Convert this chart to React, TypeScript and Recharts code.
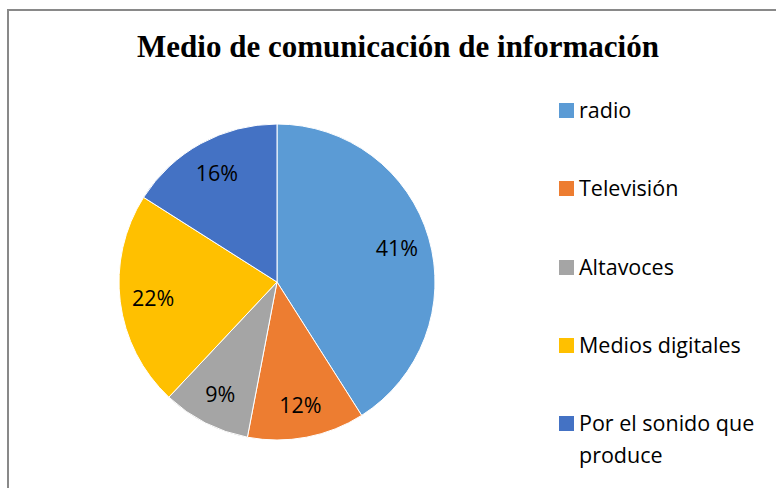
import React from "react"
import { PieChart, Pie, Cell } from "recharts"

const categories = ["radio", "Televisión", "Altavoces", "Medios digitales", "Por el sonido que produce"]
const shares = [41, 12, 9, 22, 16]
const colors = ["#5B9BD5", "#ED7D31", "#A5A5A5", "#FFC000", "#4472C4"]

const data = categories.map((name, i) => ({ name, value: shares[i] }))

const RAD = Math.PI / 180
const bodyFont = "'Open Sans', Lato, sans-serif"

const renderLabel = (props: any) => {
  const { cx, cy, midAngle, outerRadius, percent } = props
  const r = outerRadius * 0.79
  const x = cx + r * Math.cos(-midAngle * RAD)
  const y = cy + r * Math.sin(-midAngle * RAD)
  return (
    <text x={x} y={y} textAnchor="middle" dominantBaseline="central" fill="#000" fontSize={21.5} fontFamily={bodyFont}>
      {Math.round(percent * 100) + "%"}
    </text>
  )
}

function ChartLegend() {
  return (
    <div style={{ position: "absolute", left: 559, top: 94, width: 215, fontFamily: bodyFont, fontSize: 21.5, color: "#000" }}>
      {categories.map((name, i) => (
        <div key={name} style={{ display: "flex", alignItems: "flex-start", height: 78.3 }}>
          <span style={{ width: 15, height: 15, background: colors[i], marginTop: 9, marginRight: 5, flexShrink: 0 }} />
          <span style={{ lineHeight: "32px", width: 192 }}>{name}</span>
        </div>
      ))}
    </div>
  )
}

export default function App() {
  return (
    <div style={{ position: "absolute", left: 0, top: 0, width: 776, height: 488, overflow: "hidden", background: "#fff" }}>
      <div style={{ position: "absolute", left: 7, top: 9, width: 820, height: 520, border: "2.5px solid #898989" }} />
      <div
        style={{
          position: "absolute",
          left: 0,
          top: 27,
          width: 796,
          textAlign: "center",
          fontFamily: "'Liberation Serif', 'Times New Roman', serif",
          fontWeight: "bold",
          fontSize: 31,
          lineHeight: "40px",
          color: "#000",
        }}
      >
        Medio de comunicación de información
      </div>
      <div style={{ position: "absolute", left: 0, top: 0 }}>
        <PieChart width={776} height={488} margin={{ top: 0, right: 0, bottom: 0, left: 0 }}>
          <Pie
            data={data}
            dataKey="value"
            nameKey="name"
            cx={277}
            cy={282}
            outerRadius={158}
            startAngle={90}
            endAngle={-270}
            stroke="#fff"
            strokeWidth={1}
            label={renderLabel}
            labelLine={false}
            isAnimationActive={false}
          >
            {data.map((d, i) => (
              <Cell key={d.name} fill={colors[i]} />
            ))}
          </Pie>
        </PieChart>
      </div>
      <ChartLegend />
    </div>
  )
}
